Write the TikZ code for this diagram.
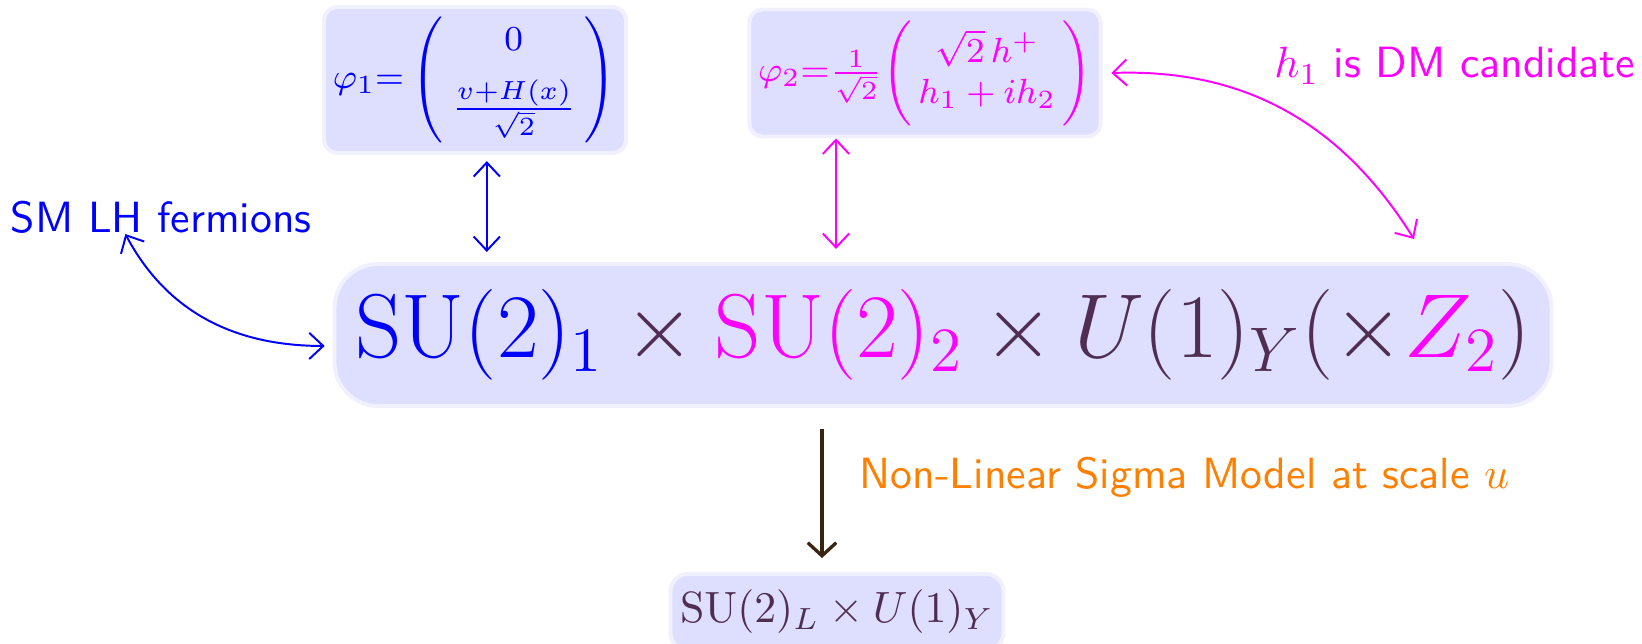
\documentclass[tikz,border=0pt]{standalone}
\usepackage{amsmath}
\usepackage{amssymb}
\usepackage{xcolor}
\usepackage{tikz}
\usetikzlibrary{positioning,arrows.meta}
\renewcommand{\familydefault}{\sfdefault}
\definecolor{darkplum}{RGB}{80,45,82}
\definecolor{darkbrown}{RGB}{58,36,16}
\definecolor{pinkmag}{RGB}{255,0,255}
\definecolor{pureblue}{RGB}{0,0,255}
\definecolor{brorange}{RGB}{255,128,0}
\tikzset{
    fieldbox/.style={rounded corners=3pt, fill=blue!13, draw=blue!6, line width=0.9pt, inner sep=2pt},
    thinarrow/.style={<->, >={Straight Barb[length=3.2pt,width=6pt]}, line width=0.45pt},
    label text/.style={font=\normalsize, inner sep=0pt}
}

\begin{document}
\begin{tikzpicture}[x=0.2285pt, y=0.2285pt]
    \useasboundingbox (0,0) rectangle (1642,-643);

    \node[fieldbox, minimum width=285*0.2285pt, minimum height=146*0.2285pt, font=\footnotesize, text=pureblue] (phione) at (475,-80)
        {\setlength{\arraycolsep}{2pt}$\varphi_1{=}\left(\rule[-11pt]{0pt}{26pt}\begin{array}{c} 0 \\[4pt] \frac{v+H(x)}{\sqrt{2}} \end{array}\right)$};
    \node[fieldbox, minimum width=335*0.2285pt, minimum height=127*0.2285pt, font=\footnotesize, text=pinkmag] (phitwo) at (925,-73)
        {\setlength{\arraycolsep}{1.5pt}$\varphi_2{=}\frac{1}{\sqrt{2}}\!\left(\rule[-9.5pt]{0pt}{23pt}\begin{array}{c} \sqrt{2}\,h^+ \\ h_1 + i h_2 \end{array}\right)$};

    \node[fieldbox, rounded corners=10pt, minimum width=1217*0.2285pt, minimum height=142*0.2285pt, font=\huge, text=darkplum] (gauge) at (943,-335)
        {$\color{pureblue}\mathrm{SU}(2)_1 \color{darkplum}\times \color{pinkmag}\mathrm{SU}(2)_2 \color{darkplum}\times U(1)_Y (\times \color{pinkmag}Z_2\color{darkplum})$};

    \node[fieldbox, rounded corners=4pt, minimum width=333*0.2285pt, minimum height=76*0.2285pt, font=\normalsize, text=darkplum] (low) at (837,-612)
        {$\mathrm{SU}(2)_L \times U(1)_Y$};

    \node[label text, text=pureblue, anchor=west] (fermions) at (10,-217) {SM LH fermions};
    \node[label text, text=pinkmag, anchor=east] (dm) at (1636,-66) {$h_1$ is DM candidate};
    \node[label text, text=brorange, anchor=west] (nlsm) at (859,-477) {Non-Linear Sigma Model at scale $u$};

    \coordinate (dmend) at (1414,-239);
    \coordinate (split) at (836,0);
    \coordinate (brk) at (822,0);

    \draw[thinarrow, pureblue] ([xshift=-8.2pt]fermions.south) to[out=-62, in=180] ([xshift=-1.8pt, yshift=-2.5pt]gauge.west);
    \draw[thinarrow, pureblue, shorten <=1.4pt, shorten >=2.3pt] ([xshift=2.7pt]phione.south) -- ([xshift=2.7pt]phione.south |- gauge.north);
    \draw[thinarrow, pinkmag, shorten >=3pt] (phitwo.south -| split) -- (gauge.north -| split);
    \draw[thinarrow, pinkmag] ([xshift=2pt]phitwo.east) to[out=2, in=122] (dmend);
    \draw[->, >={Straight Barb[length=3pt,width=6.5pt]}, darkbrown, line width=0.75pt, shorten <=4.8pt, shorten >=3.2pt] (gauge.south -| brk) -- (low.north -| brk);

\end{tikzpicture}
\end{document}
